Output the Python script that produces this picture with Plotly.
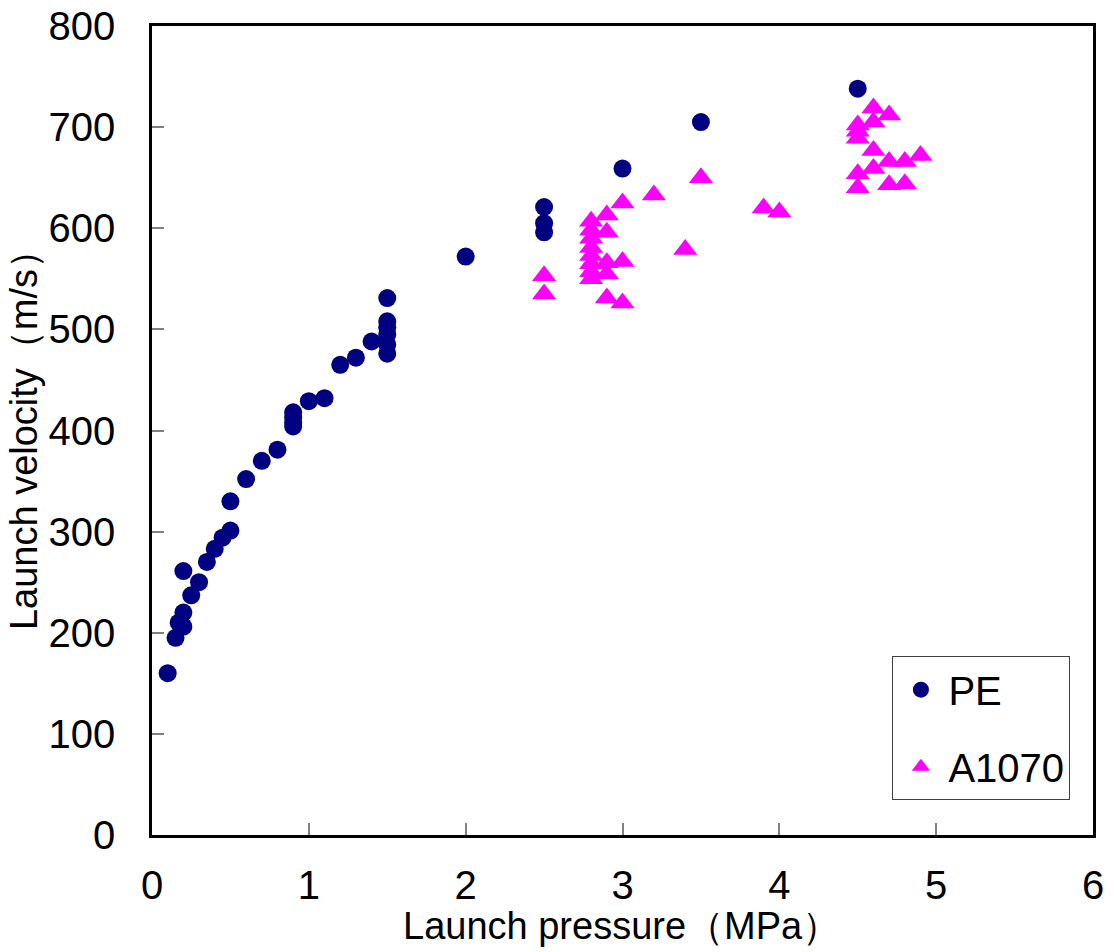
import plotly.graph_objects as go

# PE data
pe_pressure = [0.1, 0.15, 0.17, 0.2, 0.2, 0.25, 0.3, 0.2, 0.35, 0.4, 0.45, 0.5, 0.5, 0.6, 0.7, 0.8,
               0.9, 0.9, 0.9, 0.9, 1.0, 1.1, 1.2, 1.3, 1.4,
               1.5, 1.5, 1.5, 1.5, 1.5, 1.5, 2.0, 2.5, 2.5, 2.5, 3.0, 3.5, 4.5]
pe_velocity = [160, 195, 210, 206, 220, 237, 250, 261, 270, 283, 294, 301, 330, 352, 370, 381,
               404, 408, 413, 418, 429, 432, 465, 472, 488,
               531, 508, 502, 495, 485, 476, 572, 621, 605, 596, 659, 705, 738]

# A1070 data
al_pressure = [2.5, 2.5,
               2.8, 2.8, 2.8, 2.8, 2.8, 2.8, 2.8, 2.8,
               2.9, 2.9, 2.9, 2.9, 2.9,
               3.0, 3.0, 3.0, 3.2, 3.4, 3.5, 3.9, 4.0,
               4.5, 4.5, 4.5, 4.5, 4.5,
               4.6, 4.6, 4.6, 4.6,
               4.7, 4.7, 4.7, 4.8, 4.8, 4.9]
al_velocity = [553, 535,
               607, 598, 590, 581, 573, 565, 557, 550,
               613, 596, 566, 555, 531,
               625, 567, 526, 633, 579, 650, 620, 616,
               702, 696, 689, 654, 640,
               719, 705, 677, 659,
               712, 666, 643, 666, 644, 672]

x_ticks = [0, 1, 2, 3, 4, 5, 6]
y_ticks = [0, 100, 200, 300, 400, 500, 600, 700, 800]

FONT = "Liberation Sans, Arial, sans-serif"

fig = go.Figure()
fig.add_trace(go.Scatter(
    x=pe_pressure, y=pe_velocity, mode="markers", name="PE",
    legendgroup="pe",
    marker=dict(symbol="circle", size=18, color="#000080", line=dict(width=0)),
))
fig.add_trace(go.Scatter(
    x=al_pressure, y=al_velocity, mode="markers", name="A1070",
    legendgroup="al",
    marker=dict(symbol="triangle-up", size=21, color="#FF00FF", line=dict(width=0)),
))

axis_common = dict(
    showline=True, linecolor="black", linewidth=2.5, mirror=True,
    ticks="inside", ticklen=12, tickwidth=1.5, tickcolor="#808080",
    showgrid=False, zeroline=False, automargin=False,
    ticklabeloverflow="allow",
    tickfont=dict(family=FONT, size=40, color="black"),
)

fig.update_xaxes(
    range=[0, 6], tickvals=x_ticks, ticktext=[str(v) for v in x_ticks],
    ticklabelstandoff=13,
    **axis_common,
)
fig.update_yaxes(
    range=[0, 800], tickvals=y_ticks, ticktext=[str(v) for v in y_ticks],
    ticklabelstandoff=26,
    title=dict(text="Launch velocity（m/s）", font=dict(family=FONT, size=38, color="black"), standoff=0),
    **axis_common,
)

fig.add_annotation(
    text="Launch pressure（MPa）", xref="paper", yref="paper",
    x=0.499, y=-0.113, xanchor="center", yanchor="middle",
    showarrow=False, font=dict(family=FONT, size=38, color="black"),
)

fig.update_layout(
    width=1114, height=952,
    margin=dict(l=152, r=21, t=26, b=117),
    paper_bgcolor="white", plot_bgcolor="white",
    showlegend=True,
    legend=dict(
        x=0.976, y=0.043, xanchor="right", yanchor="bottom",
        bgcolor="white", bordercolor="#404040", borderwidth=1,
        font=dict(family=FONT, size=40, color="black"),
        tracegroupgap=22, itemsizing="trace", itemwidth=45,
    ),
)

fig.write_html(
    "out.html",
    config={"displayModeBar": False},
    post_script="document.body.style.margin='0px';document.body.style.overflow='hidden';",
)
